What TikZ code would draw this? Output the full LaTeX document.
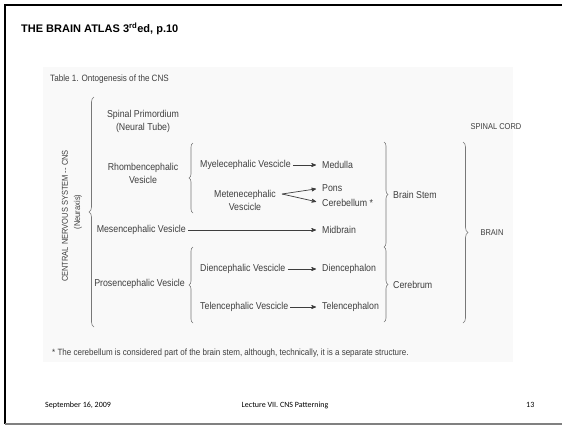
\documentclass[tikz,border=0pt]{standalone}
\usepackage{fontspec}
\setmainfont{Liberation Sans}
\newfontfamily\tabfont[FakeStretch=0.88]{Liberation Sans}
\newfontfamily\slidefont{Carlito}
\usetikzlibrary{arrows,positioning,decorations.pathreplacing}
\definecolor{cink}{RGB}{62,62,62}
\definecolor{cline}{RGB}{120,120,120}
\definecolor{cpanel}{RGB}{249,249,249}
\begin{document}
\begin{tikzpicture}[x=1pt,y=-1pt,>=stealth',
  txt/.style={font=\tabfont\fontsize{10}{13}\selectfont,text=cink,
              inner sep=0pt,align=center},
  arr/.style={->,draw=cink,line width=0.7pt,shorten <=2pt,shorten >=6pt},
  brc/.style={draw=cline,line width=0.6pt,decorate,
              decoration={brace,amplitude=4pt}},
  foot/.style={font=\slidefont\fontsize{8}{9}\selectfont,inner sep=0pt}]
\useasboundingbox (0,0) rectangle (562,426);
% slide frame
\draw[line width=1.8pt] (562,5) -- (5,5) -- (5,424);
\draw[gray,line width=1.2pt] (5,424) -- (562,424);
\node (title) [anchor=base west,inner sep=0pt,font=\bfseries\fontsize{11}{13}\selectfont]
      at (21,32.5) {THE BRAIN ATLAS 3\textsuperscript{rd}ed, p.10};
% table panel
\fill[cpanel] (43,67) rectangle (513,362);
\node (cap) [txt,anchor=west,font=\tabfont\fontsize{9.2}{10}\selectfont] at (50,79)
      {Table 1. Ontogenesis of the CNS};
\node (cns) [txt,rotate=90,font=\tabfont\fontsize{8.5}{10}\selectfont] at (65,216)
      {CENTRAL NERVOUS SYSTEM -- CNS};
\node (nax) [txt,rotate=90,font=\tabfont\fontsize{8.5}{10}\selectfont] at (78,212)
      {(Neuraxis)};
% first column
\node (spin) [txt] at (143,121) {Spinal Primordium\\(Neural Tube)};
\node (rhom) [txt] at (143,173) {Rhombencephalic\\Vesicle};
\node (mes)  [txt,anchor=east] at (186,230) {Mesencephalic Vesicle};
\node (pros) [txt,anchor=east] at (185,284) {Prosencephalic Vesicle};
% second column
\node (myel) [txt,anchor=west] at (200,165) {Myelecephalic Vescicle};
\node (met)  [txt] at (245,200) {Metenecephalic\\Vescicle};
\coordinate (fork) at (282,194);
\node (dien) [txt,anchor=west] at (200,269) {Diencephalic Vescicle};
\node (tel)  [txt,anchor=west] at (200,307) {Telencephalic Vescicle};
% third column
\node (med)  [txt,anchor=west] at (322,165) {Medulla};
\node (pons) [txt,anchor=west] at (322,188) {Pons};
\node (cbl)  [txt,anchor=west] at (322,203) {Cerebellum *};
\node (mid)  [txt,anchor=west] at (322,230) {Midbrain};
\node (dcp)  [txt,anchor=west] at (322,269) {Diencephalon};
\node (tcp)  [txt,anchor=west] at (322,307) {Telencephalon};
% groups
\node (stem) [txt,anchor=west] at (393,195) {Brain Stem};
\node (cer)  [txt,anchor=west] at (393,285) {Cerebrum};
\node (cord) [txt,font=\tabfont\fontsize{8.5}{10}\selectfont] at (496,127) {SPINAL CORD};
\node (brain) [txt,font=\tabfont\fontsize{8.5}{10}\selectfont] at (492,233) {BRAIN};
% arrows
\draw[arr] (myel) -- (med);
\draw[arr,shorten <=0pt] (fork) -- (pons.west);
\draw[arr,shorten <=0pt] (fork) -- (cbl.west);
\draw[arr] (mes) -- (mid);
\draw[arr] (dien) -- (dcp);
\draw[arr] (tel) -- (tcp);
% braces
\draw[brc,decoration={amplitude=5pt}] (94,327) -- (94,97);
\draw[brc] (193,213) -- (193,143);
\draw[brc] (193,323) -- (193,247);
\draw[brc] (384,142) -- (384,247);
\draw[brc] (384,247) -- (384,322);
\draw[brc,decoration={amplitude=5pt}] (463,142) -- (463,323);
\node (note) [txt,anchor=west,font=\tabfont\fontsize{9.1}{10}\selectfont] at (52,353)
      {* The cerebellum is considered part of the brain stem, although, technically, it is a separate structure.};
% footer
\node (date) [foot,anchor=base west] at (45,407) {September 16, 2009};
\node (lect) [foot,anchor=base] at (285,407) {Lecture VII. CNS Patterning};
\node (page) [foot,anchor=base east] at (534.5,407) {13};
\end{tikzpicture}
\end{document}
